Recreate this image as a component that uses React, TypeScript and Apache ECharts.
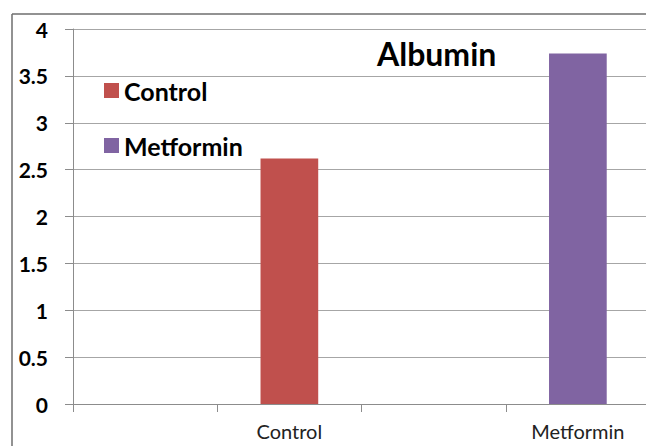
import React, { useEffect, useRef } from "react";
import * as echarts from "echarts";

const categories = ["", "Control", "", "Metformin"];
const controlValues = [null, 2.62, null, null];
const metforminValues = [null, null, null, 3.74];
const yTicks = { min: 0, max: 4, interval: 0.5 };

const FONT = "Lato, 'Open Sans', sans-serif";
const FRAME = "#6e6e6e";

export default function App() {
  const ref = useRef<HTMLDivElement>(null);

  useEffect(() => {
    if (!ref.current) return;
    const chart = echarts.init(ref.current, null, { renderer: "svg" });
    chart.setOption({
      animation: false,
      backgroundColor: "#ffffff",
      title: {
        text: "Albumin",
        left: 372,
        top: 32,
        textStyle: { fontFamily: FONT, fontWeight: "bold", fontSize: 32, color: "#000" },
      },
      legend: {
        orient: "vertical",
        left: 99,
        top: 73,
        itemWidth: 15,
        itemHeight: 15,
        itemGap: 30,
        icon: "rect",
        textStyle: { fontFamily: FONT, fontWeight: "bold", fontSize: 25, lineHeight: 25, color: "#000" },
        data: ["Control", "Metformin"],
      },
      graphic: [
        {
          type: "line",
          shape: { x1: 12, y1: 14, x2: 700, y2: 14 },
          style: { stroke: FRAME, lineWidth: 1.5 },
          silent: true,
        },
        {
          type: "line",
          shape: { x1: 12, y1: 14, x2: 12, y2: 446 },
          style: { stroke: FRAME, lineWidth: 1.5 },
          silent: true,
        },
      ],
      grid: { left: 73, top: 29, bottom: 42, right: 50, containLabel: false },
      xAxis: {
        type: "category",
        data: categories,
        boundaryGap: true,
        axisLine: { lineStyle: { color: "#8c8c8c", width: 1 } },
        axisTick: { show: true, length: 8, lineStyle: { color: "#8c8c8c" } },
        axisLabel: { fontFamily: FONT, fontSize: 20, color: "#222", margin: 17 },
      },
      yAxis: {
        type: "value",
        min: yTicks.min,
        max: yTicks.max,
        interval: yTicks.interval,
        axisLine: { show: true, lineStyle: { color: "#8c8c8c", width: 1 } },
        axisTick: { show: true, length: 8, lineStyle: { color: "#8c8c8c" } },
        splitLine: { lineStyle: { color: "#a6a6a6", width: 1 } },
        axisLabel: { fontFamily: FONT, fontWeight: "bold", fontSize: 21, color: "#000", margin: 25 },
      },
      series: [
        {
          name: "Control",
          type: "bar",
          stack: "all",
          barWidth: "40%",
          data: controlValues,
          itemStyle: { color: "#c0504d" },
        },
        {
          name: "Metformin",
          type: "bar",
          stack: "all",
          barWidth: "40%",
          data: metforminValues,
          itemStyle: { color: "#8064a2" },
        },
      ],
    });
    return () => chart.dispose();
  }, []);

  // The plot area runs past the right edge of the frame, so the chart is
  // wider than the clipping box around it.
  return (
    <div style={{ position: "fixed", left: 0, top: 0, width: 646, height: 446, overflow: "hidden" }}>
      <div ref={ref} style={{ width: 700, height: 446 }} />
    </div>
  );
}
